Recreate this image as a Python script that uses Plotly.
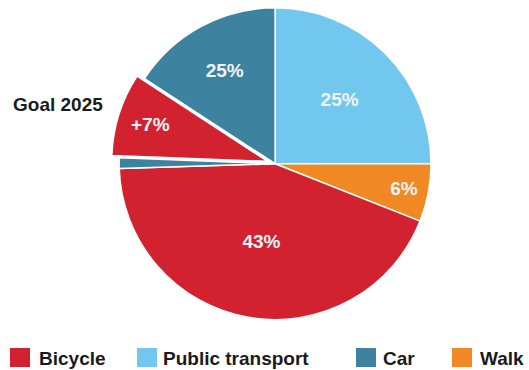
import plotly.graph_objects as go

# Slices in drawing order, clockwise from 12 o'clock (angular shares)
slice_labels = ["Public transport", "Walk", "Bicycle", "Car (rest)", "Goal 2025 (+7%)", "Car"]
slice_values = [25, 6, 43.5, 1.1, 8.6, 15.8]
slice_text = ["25%", "6%", "43%", "", "+7%", "25%"]
slice_pull = [0, 0, 0, 0, 0.05, 0]

legend_names = ["Bicycle", "Public transport", "Car", "Walk"]

RED = "#d3222f"
BLUE = "#72c7ef"
TEAL = "#3d83a0"
ORANGE = "#f08824"
color_map = {"Public transport": BLUE, "Walk": ORANGE, "Bicycle": RED,
             "Car (rest)": TEAL, "Goal 2025 (+7%)": RED, "Car": TEAL}
legend_colors = {"Bicycle": RED, "Public transport": BLUE, "Car": TEAL, "Walk": ORANGE}

FONT = "Liberation Sans, Arial, sans-serif"

W, H = 529, 370

fig = go.Figure()
fig.add_trace(go.Pie(
    labels=slice_labels, values=slice_values, text=slice_text,
    textinfo="text", sort=False, direction="clockwise", rotation=0,
    pull=slice_pull,
    marker=dict(colors=[color_map[l] for l in slice_labels],
                line=dict(color="white", width=1.5)),
    textposition="inside", insidetextorientation="horizontal",
    textfont=dict(family=FONT, size=19, color="#f4f4f4", weight="bold"),
    showlegend=False, hoverinfo="skip",
    domain=dict(x=[0.21, 0.83], y=[0.115, 1.0]),
))

fig.add_annotation(text="<b>Goal 2025</b>", x=11 / W, y=1 - 104 / H, xref="paper", yref="paper",
                   xanchor="left", yanchor="middle", showarrow=False,
                   font=dict(family=FONT, size=19, color="#1a1a1a"))

# Legend row (manual to reproduce the irregular spacing)
legend_square_x = [10, 137, 356, 452]
legend_text_x = [37, 161, 381, 478]
sq = 20
ly_top, ly_bot = 348, 367
for name, sx, tx in zip(legend_names, legend_square_x, legend_text_x):
    fig.add_shape(type="rect", xref="paper", yref="paper",
                  x0=sx / W, x1=(sx + sq) / W, y0=1 - ly_bot / H, y1=1 - ly_top / H,
                  fillcolor=legend_colors[name], line=dict(width=0))
    fig.add_annotation(text=f"<b>{name}</b>", x=tx / W, y=1 - 358.5 / H,
                       xref="paper", yref="paper", xanchor="left", yanchor="middle",
                       showarrow=False, font=dict(family=FONT, size=19, color="#1a1a1a"))

fig.update_layout(
    width=W, height=H,
    margin=dict(l=0, r=0, t=0, b=0),
    paper_bgcolor="white", plot_bgcolor="white",
    showlegend=False,
)

fig.write_html("out.html")
